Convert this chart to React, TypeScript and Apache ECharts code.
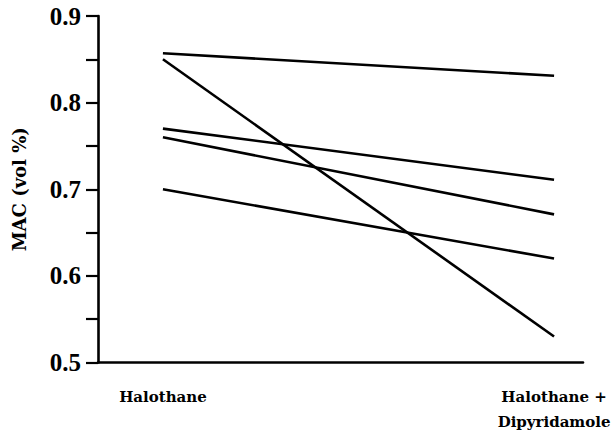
import React, { useEffect, useRef } from "react";
import * as echarts from "echarts";

const categories = ["Halothane", "Halothane +\nDipyridamole"];
const halothane = [0.857, 0.85, 0.77, 0.76, 0.7];
const halothaneDipyridamole = [0.831, 0.53, 0.711, 0.671, 0.62];
const yTicks = [0.5, 0.6, 0.7, 0.8, 0.9];

export default function App() {
  const ref = useRef<HTMLDivElement>(null);
  useEffect(() => {
    if (!ref.current) return;
    const chart = echarts.init(ref.current, null, { renderer: "svg" });
    const serif = "Liberation Serif";
    const series = halothane.map((v, i) => ({
      type: "line",
      data: [
        [0, v],
        [1, halothaneDipyridamole[i]],
      ],
      symbol: "none",
      lineStyle: { color: "#000", width: 2.6 },
      silent: true,
    }));
    chart.setOption({
      animation: false,
      backgroundColor: "#fff",
      grid: { left: 98, right: 30, top: 16, bottom: 68.5, outerBoundsMode: "none", containLabel: false },
      xAxis: {
        type: "value",
        min: -0.166,
        max: 1.074,
        splitLine: { show: false },
        axisTick: { show: false },
        axisLine: { show: true, onZero: false, lineStyle: { color: "#000", width: 2.6 } },
        axisLabel: {
          customValues: [0, 1],
          formatter: (v: number) => categories[Math.round(v)],
          color: "#000",
          fontFamily: "DejaVu Serif",
          fontWeight: "bold",
          fontSize: 15,
          lineHeight: 25,
          margin: 22,
          align: "center",
        },
      },
      yAxis: {
        type: "value",
        min: yTicks[0],
        max: yTicks[yTicks.length - 1],
        interval: 0.1,
        splitLine: { show: false },
        axisLine: { show: true, onZero: false, lineStyle: { color: "#000", width: 2.6 } },
        axisTick: { show: true, inside: false, length: 12, lineStyle: { color: "#000", width: 2.2 } },
        minorTick: { show: true, splitNumber: 2, length: 12, lineStyle: { color: "#000", width: 2.2 } },
        axisLabel: {
          formatter: (v: number) => v.toFixed(1),
          color: "#000",
          fontFamily: serif,
          fontWeight: "bold",
          fontSize: 25,
          margin: 17,
        },
        name: "MAC (vol %)",
        nameLocation: "middle",
        nameRotate: 90,
        nameGap: 70,
        nameTextStyle: {
          color: "#000",
          fontFamily: "DejaVu Serif",
          fontWeight: "bold",
          fontSize: 18,
        },
      },
      series,
    });
    return () => chart.dispose();
  }, []);
  return (
    <div
      ref={ref}
      style={{ position: "absolute", left: 0, top: 0, width: 613, height: 431 }}
    />
  );
}
